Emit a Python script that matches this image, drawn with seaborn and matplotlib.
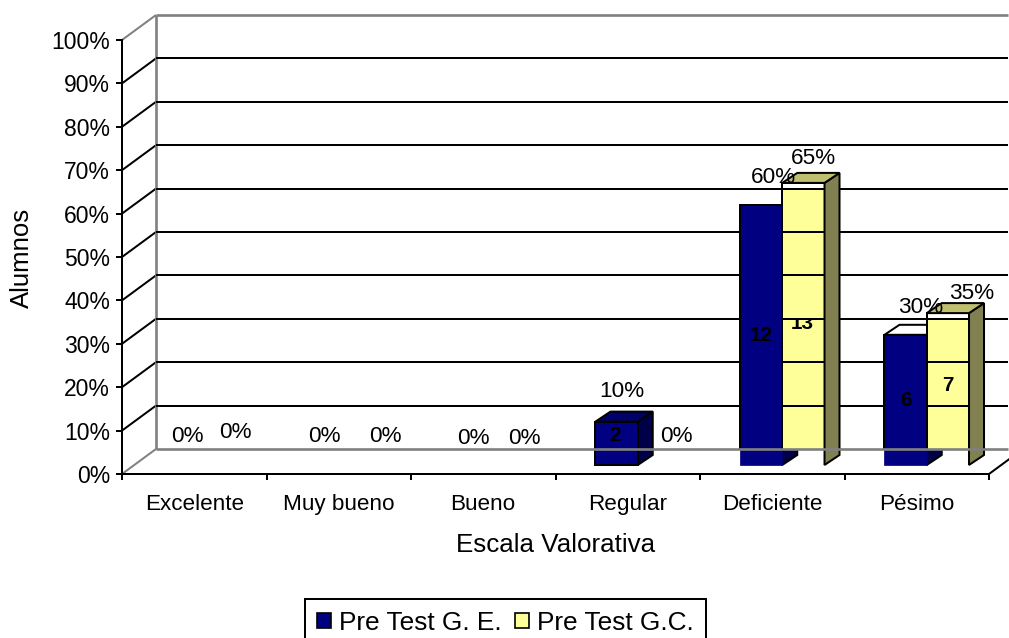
import matplotlib
matplotlib.use("Agg")
import matplotlib.pyplot as plt
import numpy as np
import pandas as pd
import seaborn as sns
from matplotlib.lines import Line2D
from matplotlib.patches import Polygon, Rectangle
from matplotlib.transforms import Bbox, IdentityTransform

# ---- data ----
categories = ["Excelente", "Muy bueno", "Bueno", "Regular", "Deficiente", "Pésimo"]
series_names = ["Pre Test G. E.", "Pre Test G.C."]
pct_ge = [0, 0, 0, 10, 60, 30]
pct_gc = [0, 0, 0, 0, 65, 35]
count_ge = [0, 0, 0, 2, 12, 6]
count_gc = [0, 0, 0, 0, 13, 7]
y_ticks = [0, 10, 20, 30, 40, 50, 60, 70, 80, 90, 100]

# ---- style / layout ----
W, H = 1009, 638
NAVY, NAVY_SIDE, NAVY_CAP = "#000080", "#000048", "#000068"
YEL, YEL_SIDE, YEL_CAP = "#FFFF99", "#808050", "#BFBF70"
GRAY = "#808080"
FS = 16.2
LW = 1.44
WALL = (34, 25)       # depth of the back wall, px
BAR_SHIFT = (10, 9)   # offset of the bar fronts from the front plane, px
BAR_D = (15, 10)      # depth of the bars, px
# label nudges relative to bar centre / bar top, px (dx, dy down)
pct_nudge_ge = [(4, -28), (-3, -28), (1, -27), (5, -30), (12, -27), (15, -27)]
pct_nudge_gc = [(10, -32), (15, -28), (10, -26), (17, -29), (10, -24), (24, -20)]
cnt_nudge_ge = [(0, 0), (0, 0), (0, 0), (-2, -8), (0, 1), (0, 1)]
cnt_nudge_gc = [(0, 0), (0, 0), (0, 0), (0, 0), (-1, 0), (0, -4)]
blue_caps = [None, None, None, NAVY_CAP, None, "white"]

sns.set_theme(style="white")
plt.rcParams["font.family"] = ["Liberation Sans", "DejaVu Sans"]

fig = plt.figure(figsize=(W / 100, H / 100), dpi=100, facecolor="white")
ax = fig.add_axes([122 / W, (H - 474) / H, (989 - 122) / W, (474 - 40) / H])

df = pd.DataFrame({
    "cat": categories * 2,
    "serie": [series_names[0]] * 6 + [series_names[1]] * 6,
    "pct": pct_ge + pct_gc,
})
sns.barplot(data=df, x="cat", y="pct", hue="serie", order=categories,
            hue_order=series_names, palette=[NAVY, YEL], width=0.585, gap=0,
            saturation=1, legend=False, ax=ax, err_kws={"linewidth": 0})
ax.set_xlim(-0.5, 5.5)
ax.set_ylim(0, 100)
ax.set_facecolor("none")

# axes furniture
for s in ("top", "right"):
    ax.spines[s].set_visible(False)
for s in ("left", "bottom"):
    ax.spines[s].set_color("black")
    ax.spines[s].set_linewidth(LW)
    ax.spines[s].set_zorder(6)
ax.set_yticks(y_ticks)
ax.set_yticklabels([f"{v}%" for v in y_ticks], fontsize=16.5, color="black")
ax.set_xticks(range(6))
ax.set_xticklabels(categories, fontsize=FS, color="black")
ax.set_xticks(np.arange(-0.5, 6), minor=True)
ax.tick_params(axis="x", which="major", length=0, pad=14.5)
ax.tick_params(axis="x", which="minor", length=4, width=LW, color="black", bottom=True)
ax.tick_params(axis="y", length=4, width=LW, color="black", left=True, pad=4.5)
ax.set_xlabel("Escala Valorativa", fontsize=18.7, color="black", labelpad=13)
ax.set_ylabel("Alumnos", fontsize=18.5, color="black")
ax.yaxis.set_label_coords(-0.102, 0.498)


def disp(x, y):
    return ax.transData.transform((x, y))


wall = np.array(WALL)
x0, x1 = -0.5, 5.5
grid_z = 1.5
RIGHT = W - 1


def add_line(px, py, color, lw=LW, z=grid_z):
    ln = Line2D(px, py, color=color, lw=lw, zorder=z,
                transform=IdentityTransform(), clip_on=False, solid_capstyle="butt")
    ax.add_line(ln)


# back wall grid + floor + side wall
for v in y_ticks:
    front = disp(x0, v)
    back = front + wall
    color = GRAY if v in (0, 100) else "black"
    add_line([front[0], back[0]], [front[1], back[1]], color, LW)
    if v == 100:
        add_line([back[0], RIGHT], [back[1], back[1]], color, 1.9)
bl = disp(x0, 0) + wall
add_line([bl[0], bl[0]], [bl[1], disp(x0, 100)[1] + wall[1]], GRAY, 1.9)
grid_levels = []
for v in y_ticks[1:-1]:
    b = disp(x0, v) + wall
    grid_levels.append(b[1])
    add_line([b[0], RIGHT], [b[1], b[1]], "black")
# floor line sits in front of the bars
add_line([bl[0], RIGHT], [bl[1], bl[1]], GRAY, 1.9, z=5)
# right end of the floor edge
fr = disp(x1, 0)
add_line([fr[0], fr[0] + wall[0]], [fr[1], fr[1] + wall[1]], "black")

floor_y = bl[1]
shift = np.array(BAR_SHIFT)
d = np.array(BAR_D)


def add_poly(pts, face, z, edge="black", lw=LW):
    ax.add_patch(Polygon(pts, closed=True, facecolor=face, edgecolor=edge, lw=lw,
                         zorder=z, transform=IdentityTransform(), clip_on=False))


def corners(bar):
    xa, xb = bar.get_x(), bar.get_x() + bar.get_width()
    top = bar.get_height()
    return disp(xa, 0) + shift, disp(xb, 0) + shift, disp(xb, top) + shift, disp(xa, top) + shift


def bar_text(cs, txt, nudge, where, z=7, clip_to_grid=False, **kw):
    bl_, br_, tr_, _ = cs
    cx = (bl_[0] + br_[0]) / 2
    cy = tr_[1] if where == "top" else (tr_[1] + br_[1]) / 2
    py = cy - nudge[1]
    t = ax.text(cx + nudge[0], py, txt, transform=IdentityTransform(),
                ha="center", va="center", color="black", zorder=z, clip_on=False, **kw)
    if clip_to_grid:
        upper = min(g for g in grid_levels if g >= py)
        t.set_clip_on(True)
        t.set_clip_path(None)
        t.set_clip_box(Bbox([[0, 0], [W, upper]]))


blue_bars, yellow_bars = ax.containers[0], ax.containers[1]
above_floor = Bbox([[0, floor_y], [W, H]])

for i, bar in enumerate(blue_bars):
    cs = corners(bar)
    a, b, c, e = cs
    if pct_ge[i] == 0:
        bar.set_visible(False)
    else:
        bar.set_transform(IdentityTransform())
        bar.set_bounds(a[0], a[1], b[0] - a[0], e[1] - a[1])
        bar.set_edgecolor(NAVY)
        bar.set_linewidth(0.5)
        bar.set_zorder(2)
        bar.set_clip_on(False)
        add_poly([b, c, c + d, b + d], NAVY_SIDE, 1.0)
        if blue_caps[i] is not None:
            add_poly([e, c, c + d, e + d], blue_caps[i], 1.0)
        outline = Rectangle(a, b[0] - a[0], e[1] - a[1], fill=False, edgecolor="black",
                            lw=LW, zorder=2.5, transform=IdentityTransform())
        ax.add_patch(outline)
        if pct_gc[i] == 0:
            outline.set_clip_on(False)
        else:
            outline.set_clip_box(above_floor)
    bar_text(cs, f"{pct_ge[i]}%", pct_nudge_ge[i], "top", fontsize=FS)
    if count_ge[i]:
        bar_text(cs, str(count_ge[i]), cnt_nudge_ge[i], "mid", fontsize=FS * 0.92, fontweight="bold")

for i, bar in enumerate(yellow_bars):
    cs = corners(bar)
    a, b, c, e = cs
    if pct_gc[i] == 0:
        bar.set_visible(False)
    else:
        bar.set_transform(IdentityTransform())
        bar.set_bounds(a[0], a[1], b[0] - a[0], e[1] - a[1])
        bar.set_edgecolor("black")
        bar.set_linewidth(LW)
        bar.set_zorder(1.2)
        bar.set_clip_on(True)
        bar.set_clip_box(above_floor)
        # thin unfilled strip under the top edge
        ax.add_patch(Rectangle((e[0] + 1, e[1] - 6), b[0] - a[0] - 2, 5, facecolor="white",
                               edgecolor="none", zorder=1.3, transform=IdentityTransform(),
                               clip_on=False))
        add_poly([b, c, c + d, b + d], YEL_SIDE, 2.0)
        add_poly([e, c, c + d, e + d], YEL_CAP, 2.0)
    bar_text(cs, f"{pct_gc[i]}%", pct_nudge_gc[i], "top", fontsize=FS)
    if count_gc[i]:
        bar_text(cs, str(count_gc[i]), cnt_nudge_gc[i], "mid", z=1.4, clip_to_grid=True,
                 fontsize=FS * 0.92, fontweight="bold")

# legend
handles = [Rectangle((0, 0), 1, 1, facecolor=NAVY, edgecolor="black", lw=1.2),
           Rectangle((0, 0), 1, 1, facecolor=YEL, edgecolor="black", lw=1.2)]
leg = ax.legend(handles, series_names, loc="upper left",
                bbox_to_anchor=(305 / W, 1 - 599 / H), bbox_transform=fig.transFigure,
                ncol=2, fontsize=18.9, frameon=True, fancybox=False, framealpha=1,
                edgecolor="black", borderaxespad=0, borderpad=0.45, handlelength=0.55,
                handleheight=0.55, handletextpad=0.3, columnspacing=0.5, labelcolor="black")
leg.get_frame().set_linewidth(LW)
leg.set_zorder(8)

fig.savefig("out.png", dpi=100, facecolor="white")
